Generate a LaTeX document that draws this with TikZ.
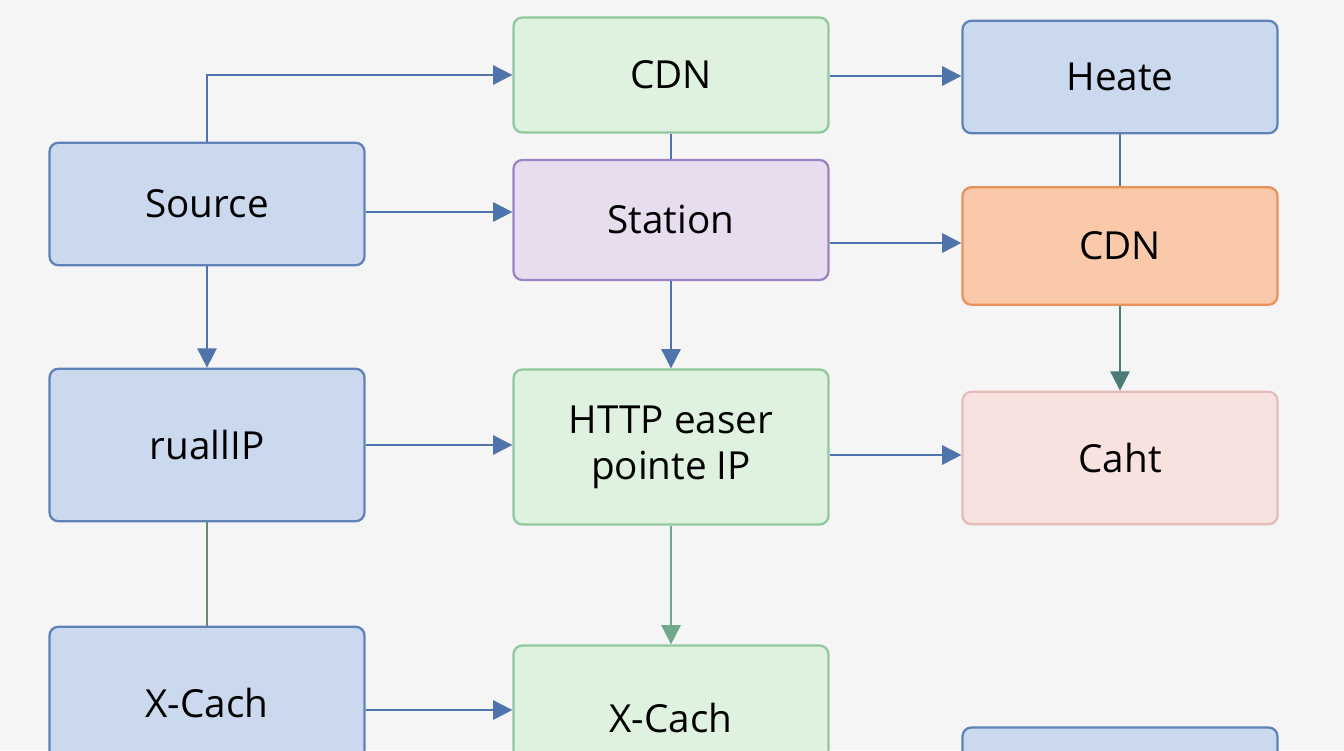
\documentclass[tikz,border=0pt]{standalone}
\usepackage{fontspec}
\setmainfont{Open Sans}
\usetikzlibrary{arrows.meta}
\definecolor{bluefill}{HTML}{CAD9EE}
\definecolor{blueline}{HTML}{5F82B9}
\definecolor{greenfill}{HTML}{DFF1DF}
\definecolor{greenline}{HTML}{90C99E}
\definecolor{purpfill}{HTML}{E7DDEF}
\definecolor{purpline}{HTML}{9D82C4}
\definecolor{orangefill}{HTML}{FAC9A9}
\definecolor{orangeline}{HTML}{E9915C}
\definecolor{pinkfill}{HTML}{F7E2E0}
\definecolor{pinkline}{HTML}{E4BCB8}
\definecolor{arrowblue}{HTML}{4F73AB}
\definecolor{arrowgreen}{HTML}{6FA98A}
\definecolor{arrowteal}{HTML}{4C7A78}
\begin{document}
\begin{tikzpicture}[x=0.02cm,y=-0.02cm]
		\fontsize{22}{26}\selectfont
		\tikzset{box/.style = {draw, line width=1.3pt, rectangle, rounded corners=5, minimum width=6.3cm, align=center},
			bluebox/.style = {box, fill=bluefill, draw=blueline},
			greenbox/.style = {box, fill=greenfill, draw=greenline},
			conn/.style = {draw=arrowblue, line width=1.1pt},
			arr/.style = {conn, -{Triangle[length=11pt,width=11pt]}}}
		\useasboundingbox (0,0) rectangle (1344,750);
		\clip (0,0) rectangle (1344,750);
		\fill[white!96!black] (0,0) rectangle (1344,750);

		\node[greenbox, minimum height=2.3cm] (cdn) at (671,75) {CDN};
		\node[bluebox, minimum height=2.25cm] (heate) at (1120,77) {Heate};
		\node[bluebox, minimum height=2.45cm] (source) at (207,204) {Source};
		\node[box, fill=purpfill, draw=purpline, minimum height=2.4cm] (station) at (671,220) {Station};
		\node[box, fill=orangefill, draw=orangeline, minimum height=2.35cm] (cdno) at (1120,246) {CDN};
		\node[bluebox, minimum height=3.05cm] (rual) at (207,445) {ruallIP};
		\node[greenbox, minimum height=3.1cm] (http) at (671,447) {HTTP easer\\pointe IP};
		\node[box, fill=pinkfill, draw=pinkline, minimum height=2.65cm] (caht) at (1120,458) {Caht};
		\node[bluebox, minimum height=3.05cm] (xleft) at (207,703) {X-Cach};
		\node[greenbox, minimum height=2.9cm] (xmid) at (671,718) {X-Cach};
		\node[bluebox, minimum height=2.9cm] (xright) at (1120,800) {};

		% top row
		\draw[arr] (source.north) |- (cdn.west);
		\draw[arr] (cdn.east |- 0,76) -- (heate.west |- 0,76);
		\draw[conn] (cdn.south) -- (station.north);
		\draw[conn] (heate.south) -- (cdno.north);
		\draw[arr] (source.east |- 0,212) -- (station.west |- 0,212);
		\draw[arr] (station.east |- 0,243) -- (cdno.west |- 0,243);

		% middle row
		\draw[arr] (source.south) -- (rual.north);
		\draw[arr] (station.south) -- (http.north);
		\draw[arr, draw=arrowteal] (cdno.south) -- (caht.north);
		\draw[arr] (rual.east |- 0,445) -- (http.west |- 0,445);
		\draw[arr] (http.east |- 0,455) -- (caht.west |- 0,455);

		% bottom row
		\draw[arr, draw=arrowgreen] (http.south) -- (xmid.north);
		\draw[conn, draw=greenline!70!black] (rual.south) -- (xleft.north);
		\draw[arr] (xleft.east |- 0,710) -- (xmid.west |- 0,710);
	\end{tikzpicture}
\end{document}
